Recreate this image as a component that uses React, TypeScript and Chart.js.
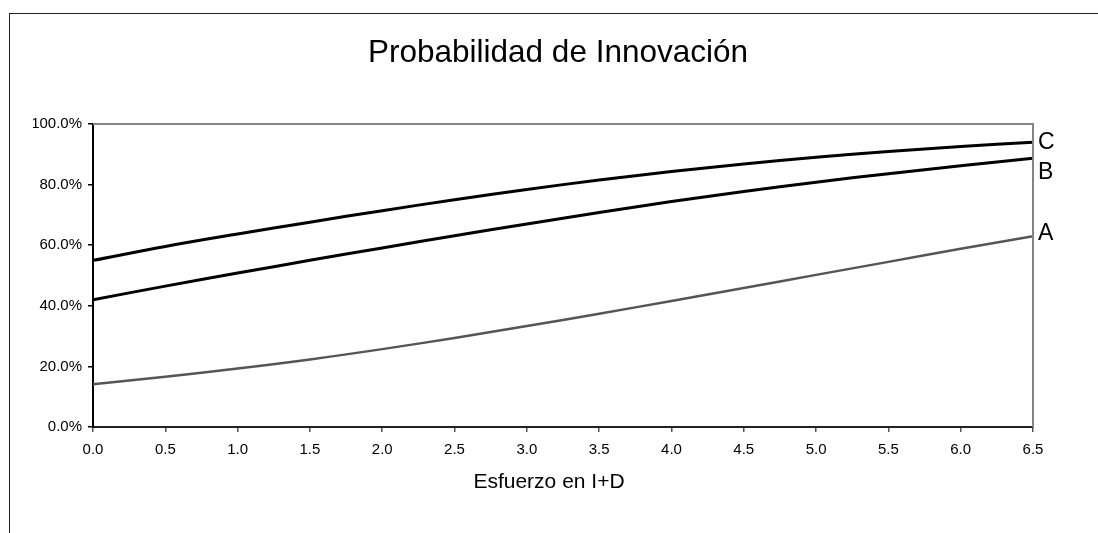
import React, { useEffect, useRef } from "react";
import { Chart, registerables } from "chart.js";

Chart.register(...registerables);

const xValues = [0, 0.5, 1.0, 1.5, 2.0, 2.5, 3.0, 3.5, 4.0, 4.5, 5.0, 5.5, 6.0, 6.5];
const seriesC = [55.0, 59.6, 63.7, 67.6, 71.4, 75.0, 78.4, 81.5, 84.3, 86.8, 89.0, 90.9, 92.6, 94.0];
const seriesB = [42.0, 46.5, 50.8, 55.0, 59.1, 63.1, 67.0, 70.8, 74.4, 77.7, 80.8, 83.6, 86.2, 88.7];
const seriesA = [14.1, 16.6, 19.3, 22.3, 25.7, 29.4, 33.3, 37.4, 41.6, 45.9, 50.2, 54.5, 58.8, 63.0];
const seriesNames = ["C", "B", "A"];
const titleText = "Probabilidad de Innovación";
const xTitleText = "Esfuerzo en I+D";

const FONT = "'Liberation Sans', Arial, sans-serif";

const decorPlugin = {
  id: "decor",
  afterDraw(chart: any) {
    const { ctx, chartArea } = chart;
    ctx.save();
    ctx.strokeStyle = "#858585";
    ctx.lineWidth = 2;
    ctx.beginPath();
    ctx.moveTo(chartArea.left, chartArea.top);
    ctx.lineTo(chartArea.right, chartArea.top);
    ctx.lineTo(chartArea.right, chartArea.bottom);
    ctx.stroke();
    ctx.fillStyle = "#000";
    ctx.textAlign = "center";
    ctx.textBaseline = "alphabetic";
    ctx.font = `31.5px ${FONT}`;
    ctx.fillText(titleText, 558, 62);
    ctx.font = `21px ${FONT}`;
    ctx.fillText(xTitleText, 549, 488);
    ctx.font = `23px ${FONT}`;
    ctx.textAlign = "left";
    ctx.textBaseline = "middle";
    const offsets = [0, 14, -2];
    chart.data.datasets.forEach((ds: any, i: number) => {
      const meta = chart.getDatasetMeta(i);
      const last = meta.data[meta.data.length - 1];
      ctx.fillText(seriesNames[i], last.x + 5, last.y + offsets[i]);
    });
    ctx.restore();
  },
};

export default function App() {
  const ref = useRef<HTMLCanvasElement | null>(null);
  useEffect(() => {
    if (!ref.current) return;
    const mk = (vals: number[]) => xValues.map((x, i) => ({ x, y: vals[i] }));
    const chart = new Chart(ref.current, {
      type: "line",
      data: {
        datasets: [
          { label: "C", data: mk(seriesC), borderColor: "#000", borderWidth: 3, pointRadius: 0, tension: 0.4 },
          { label: "B", data: mk(seriesB), borderColor: "#000", borderWidth: 3, pointRadius: 0, tension: 0.4 },
          { label: "A", data: mk(seriesA), borderColor: "#555", borderWidth: 2.5, pointRadius: 0, tension: 0.4 },
        ],
      },
      options: {
        animation: false,
        responsive: false,
        devicePixelRatio: 1,
        layout: { padding: { left: 33, top: 124, right: 65, bottom: 0 } },
        plugins: { legend: { display: false }, tooltip: { enabled: false }, title: { display: false } },
        scales: {
          x: {
            type: "linear",
            min: 0,
            max: 6.5,
            afterFit: (s: any) => { s.height = 106; },
            ticks: {
              stepSize: 0.5,
              color: "#000",
              font: { family: FONT, size: 15 },
              padding: 9,
              maxRotation: 0,
              autoSkip: false,
              callback: (v: any) => Number(v).toFixed(1),
            },
            grid: { display: true, drawOnChartArea: false, drawTicks: true, tickLength: 5, color: "#555", lineWidth: 1.5 },
            border: { display: true, color: "#222", width: 2 },
          },
          y: {
            min: 0,
            max: 100,
            afterFit: (s: any) => { s.width = 60; },
            ticks: {
              stepSize: 20,
              color: "#000",
              font: { family: FONT, size: 15 },
              padding: 6,
              callback: (v: any) => Number(v).toFixed(1) + "%",
            },
            grid: { display: true, drawOnChartArea: false, drawTicks: true, tickLength: 5, color: "#000", lineWidth: 1.5 },
            border: { display: true, color: "#000", width: 2 },
          },
        },
      },
      plugins: [decorPlugin],
    } as any);
    return () => chart.destroy();
  }, []);
  return (
    <div style={{ position: "fixed", left: 0, top: 0, width: 1098, height: 533, background: "#fff", overflow: "hidden" }}>
      <div style={{ position: "absolute", left: 9, top: 13, width: 1200, height: 700, borderLeft: "1.5px solid #222", borderTop: "1.5px solid #222" }} />
      <canvas ref={ref} width={1098} height={533} style={{ position: "absolute", left: 0, top: 0, display: "block" }} />
    </div>
  );
}
